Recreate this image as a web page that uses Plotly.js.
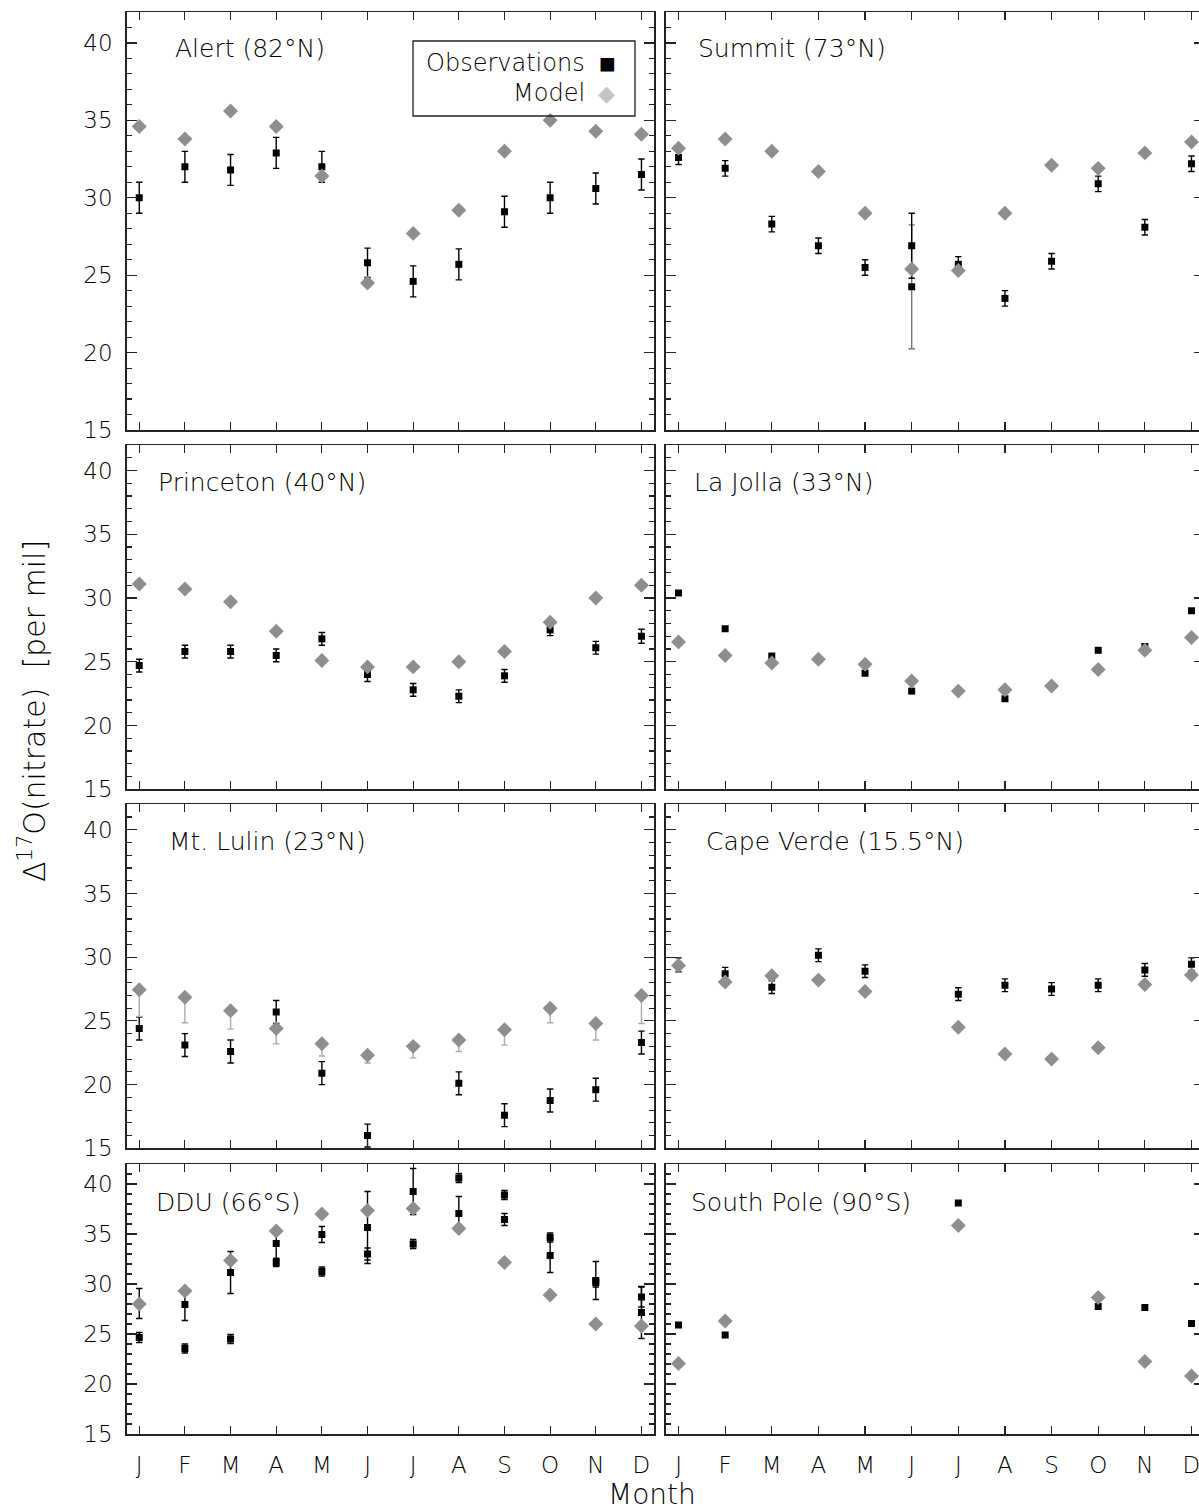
<!DOCTYPE html>
<html><head><meta charset="utf-8">
<script src="https://cdn.plot.ly/plotly-3.0.1.min.js"></script>
<style>html,body{margin:0;padding:0;overflow:hidden;background:#fff;}#chart{width:1206px;height:1511px;}</style>
</head><body><div id="chart"></div><script>
// ---------- data ----------
const months = [1,2,3,4,5,6,7,8,9,10,11,12];
const monthLabels = ['J','F','M','A','M','J','J','A','S','O','N','D'];
const yTickVals = [15,20,25,30,35,40];
const panelNames = ['Alert (82°N)','Summit (73°N)','Princeton (40°N)','La Jolla (33°N)',
  'Mt. Lulin (23°N)','Cape Verde (15.5°N)','DDU (66°S)','South Pole (90°S)'];

const alertObs   = [30.0,32.0,31.8,32.9,32.0,25.8,24.6,25.7,29.1,30.0,30.6,31.5];
const alertErr   = [1.0,1.0,1.0,1.0,1.0,0.95,1.0,1.0,1.0,1.0,1.0,1.0];
const alertModel = [34.6,33.8,35.6,34.6,31.4,24.5,27.7,29.2,33.0,35.0,34.3,34.1];

const summitObs   = [32.6,31.9,28.3,26.9,25.5,26.9,25.7,23.5,25.9,30.9,28.1,32.2];
const summitErr   = [0.45,0.5,0.5,0.5,0.5,2.1,0.5,0.5,0.5,0.5,0.5,0.5];
const summitObs2  = [null,null,null,null,null,24.25,null,null,null,null,null,null];
const summitErr2  = [0,0,0,0,0,4.0,0,0,0,0,0,0];
const summitModel = [33.2,33.8,33.0,31.7,29.0,25.4,25.3,29.0,32.1,31.9,32.9,33.6];

const princetonObs   = [24.7,25.8,25.8,25.5,26.8,24.0,22.8,22.3,23.9,27.5,26.1,27.0];
const princetonErr   = [0.5,0.5,0.5,0.5,0.5,0.55,0.5,0.5,0.5,0.45,0.5,0.55];
const princetonModel = [31.1,30.7,29.7,27.4,25.1,24.6,24.6,25.0,25.8,28.1,30.0,31.0];

const laJollaObs   = [30.4,27.6,25.45,null,24.1,22.7,null,22.1,null,25.9,26.2,29.0];
const laJollaModel = [26.55,25.5,24.9,25.2,24.8,23.5,22.7,22.8,23.1,24.4,25.9,26.9];

const lulinObs        = [24.4,23.1,22.6,25.7,20.9,16.0,null,20.1,17.6,18.75,19.6,23.3];
const lulinErr        = [0.9,0.9,0.9,0.9,0.9,0.9,0.9,0.9,0.9,0.9,0.9,0.9];
const lulinModel      = [27.45,26.85,25.8,24.4,23.2,22.3,23.0,23.5,24.3,26.0,24.8,27.0];
const lulinModelErrLo = [2.1,2.0,1.45,1.2,0.95,0.6,0.9,0.9,1.2,1.15,1.3,2.2];

const capeVerdeObs   = [29.4,28.7,27.65,30.15,28.9,null,27.1,27.8,27.5,27.8,29.0,29.45];
const capeVerdeErr   = [0.55,0.5,0.5,0.5,0.5,0,0.5,0.5,0.5,0.5,0.5,0.5];
const capeVerdeModel = [29.35,28.05,28.55,28.2,27.3,null,24.5,22.4,22.0,22.9,27.85,28.6];

const dduObs   = [28.05,27.95,31.15,34.05,34.95,35.65,39.25,40.6,38.9,34.65,30.35,28.7];
const dduErr   = [1.5,1.6,2.1,1.5,0.8,3.6,2.3,0.45,0.45,0.45,1.9,1.0];
const dduObs2  = [24.65,23.55,24.5,32.15,31.25,33.0,34.0,37.05,36.45,32.85,30.15,27.15];
const dduErr2  = [0.5,0.45,0.45,0.4,0.45,0.6,0.45,1.7,0.6,1.7,0.45,2.6];
const dduModel = [28.0,29.3,32.35,35.3,37.0,37.35,37.55,35.55,32.15,28.9,26.0,25.8];

const southPoleObs   = [25.9,24.9,null,null,null,null,38.1,null,null,27.75,27.65,26.05];
const southPoleModel = [22.05,26.3,null,null,null,null,35.85,null,null,28.65,22.25,20.8];

// ---------- page geometry (pixels) ----------
const W = 1206, H = 1511;
const colPx = [[126.7,654.0],[665.7,1204.3]];
const rowPx = [[12,430],[445,789.3],[804.3,1148.3],[1164,1434]];
const titlePx = [[173,48],[696,48],[156,483],[692,483],[167,842],[704,842],[154,1202],[689,1202]];

const FONT = "'DejaVu Sans Light','DejaVu Sans',sans-serif";
const INK = '#000000';
const MODEL_COLOR = '#8e8e8e';

const panels = [
  {obs:alertObs, err:alertErr, model:alertModel},
  {obs:summitObs, err:summitErr, obs2:summitObs2, err2:summitErr2, err2Color:'#777777', model:summitModel},
  {obs:princetonObs, err:princetonErr, model:princetonModel},
  {obs:laJollaObs, model:laJollaModel},
  {obs:lulinObs, err:lulinErr, model:lulinModel, modelErrLo:lulinModelErrLo},
  {obs:capeVerdeObs, err:capeVerdeErr, model:capeVerdeModel},
  {obs:dduObs, err:dduErr, obs2:dduObs2, err2:dduErr2, err2Color:INK, model:dduModel},
  {obs:southPoleObs, model:southPoleModel}
];

const traces = [];
const layout = {
  width: W, height: H, margin:{l:0,r:0,t:0,b:0},
  paper_bgcolor:'#fff', plot_bgcolor:'#fff', showlegend:false,
  font:{family:FONT, size:22, color:INK, weight:200},
  annotations:[], shapes:[]
};

function obsTrace(ax, y, err, color) {
  const t = {x:months, y:y, type:'scatter', mode:'markers', xaxis:'x'+ax, yaxis:'y'+ax,
    marker:{symbol:'square', size:7, color:'#000'}, hoverinfo:'skip', cliponaxis:true};
  if (err) t.error_y = {type:'data', array:err, visible:true, color:color||INK, thickness:1.4, width:3.2};
  return t;
}

panels.forEach((p, i) => {
  const ax = i + 1, row = Math.floor(i/2), col = i % 2;
  if (p.obs2) traces.push(obsTrace(ax, p.obs2, p.err2, p.err2Color));
  traces.push(obsTrace(ax, p.obs, p.err, INK));
  const m = {x:months, y:p.model, type:'scatter', mode:'markers', xaxis:'x'+ax, yaxis:'y'+ax,
    marker:{symbol:'diamond', size:11.5, color:MODEL_COLOR}, hoverinfo:'skip'};
  if (p.modelErrLo) m.error_y = {type:'data', symmetric:false, array:p.modelErrLo.map(()=>0),
    arrayminus:p.modelErrLo, visible:true, color:'#ababab', thickness:1.4, width:3.2};
  traces.push(m);

  const xd = [colPx[col][0]/W, colPx[col][1]/W];
  const yd = [1 - rowPx[row][1]/H, 1 - rowPx[row][0]/H];
  const sfx = ax === 1 ? '' : ax;
  layout['xaxis'+sfx] = {domain:xd, anchor:'y'+ax, range:[0.725,12.275],
    tickmode:'array', tickvals:months, ticktext:monthLabels, showticklabels: row === 3,
    ticks:'inside', ticklen:8, tickwidth:1.1, tickcolor:'#222',
    showline:true, linecolor:'#222', linewidth:1.5, mirror:'ticks',
    showgrid:false, zeroline:false, fixedrange:true, ticklabelstandoff:10,
    tickfont:{family:FONT, size:23, color:INK, weight:200}};
  layout['yaxis'+sfx] = {domain:yd, anchor:'x'+ax, range:[15,42],
    tickmode:'array', tickvals:yTickVals, showticklabels: col === 0,
    ticks:'inside', ticklen:10, tickwidth:1.1, tickcolor:'#222',
    minor:{ticks:'inside', ticklen:5, tickwidth:1.1, tickcolor:'#222', dtick:1, tick0:15, showgrid:false},
    showline:true, linecolor:'#222', linewidth:1.5, mirror:'ticks',
    showgrid:false, zeroline:false, fixedrange:true, ticklabelstandoff:8,
    tickfont:{family:FONT, size:23, color:INK, weight:200}};

  layout.annotations.push({text:panelNames[i], xref:'paper', yref:'paper',
    x:titlePx[i][0]/W, y:1 - titlePx[i][1]/H, xanchor:'left', yanchor:'middle', showarrow:false,
    font:{family:FONT, size:25, color:INK, weight:200}});
});

// axis titles
layout.annotations.push({text:'Month', xref:'paper', yref:'paper', x:652/W, y:1-1494/H,
  xanchor:'center', yanchor:'middle', showarrow:false, font:{family:FONT, size:28, color:INK, weight:200}});
layout.annotations.push({text:'Δ<sup>17</sup>O(nitrate)  [per mil]', xref:'paper', yref:'paper',
  x:32/W, y:1-711/H, xanchor:'center', yanchor:'middle', textangle:-90, showarrow:false,
  font:{family:FONT, size:30, color:INK, weight:200}});

// legend box
layout.shapes.push({type:'rect', xref:'paper', yref:'paper', x0:413/W, x1:635/W, y0:1-116/H, y1:1-41/H,
  line:{color:'#222', width:1.3}, fillcolor:'rgba(255,255,255,0)'});
layout.annotations.push({text:'Observations', xref:'paper', yref:'paper', x:587/W, y:1-63/H,
  xanchor:'right', yanchor:'middle', showarrow:false, font:{family:FONT, size:24, color:INK, weight:200}});
layout.annotations.push({text:'Model', xref:'paper', yref:'paper', x:587/W, y:1-93/H,
  xanchor:'right', yanchor:'middle', showarrow:false, font:{family:FONT, size:24, color:INK, weight:200}});
layout.annotations.push({text:'■', xref:'paper', yref:'paper', x:607.5/W, y:1-63.5/H,
  xanchor:'center', yanchor:'middle', showarrow:false, font:{family:'DejaVu Sans', size:28, color:'#000'}});
layout.annotations.push({text:'◆', xref:'paper', yref:'paper', x:606.7/W, y:1-93.3/H,
  xanchor:'center', yanchor:'middle', showarrow:false, font:{family:'DejaVu Sans', size:22, color:'#c4c4c4'}});

Plotly.newPlot('chart', traces, layout, {staticPlot:true, displayModeBar:false});
</script></body></html>
